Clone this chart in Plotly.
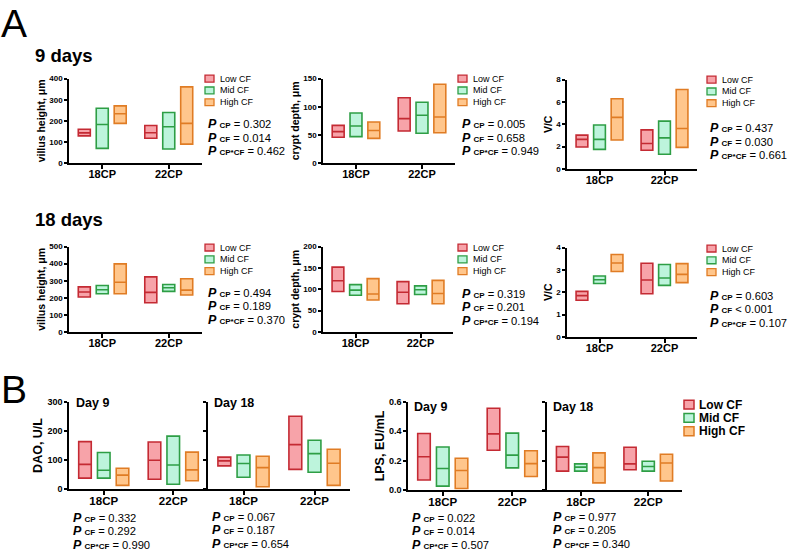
import plotly.graph_objects as go

W, H = 791, 557
FONT = "Liberation Sans"

cats = ["18CP", "22CP"]
groups = ["Low CF", "Mid CF", "High CF"]
line_colors = ["#C42A33", "#2E9E45", "#E07C24"]
fill_colors = ["#F7A3A9", "#BDF4DC", "#FFC68C"]

# values per panel: [group][category] -> min / mean / max
vh9_min = [[129, 118], [70, 67], [188, 90]]
vh9_mean = [[143, 144], [183, 172], [234, 188]]
vh9_max = [[160, 178], [260, 240], [271, 361]]

cd9_min = [[46, 57], [47, 53], [44, 54]]
cd9_mean = [[56, 79], [66, 85], [58, 82]]
cd9_max = [[67, 116], [89, 108], [73, 140]]

vc9_min = [[1.97, 1.68], [1.76, 1.32], [2.59, 1.94]]
vc9_mean = [[2.65, 2.29], [2.65, 2.79], [4.62, 3.62]]
vc9_max = [[3.03, 3.50], [3.94, 4.29], [6.29, 7.12]]

vh18_min = [[205, 171], [224, 238], [224, 217]]
vh18_mean = [[234, 232], [247, 259], [291, 245]]
vh18_max = [[264, 323], [272, 278], [399, 312]]

cd18_min = [[95, 66], [86, 88], [75, 66]]
cd18_mean = [[120, 93], [98, 99], [89, 90]]
cd18_max = [[152, 118], [111, 108], [125, 121]]

vc18_min = [[1.64, 1.93], [2.39, 2.31], [2.93, 2.43]]
vc18_mean = [[1.85, 2.55], [2.56, 2.64], [3.31, 2.80]]
vc18_max = [[2.04, 3.30], [2.73, 3.24], [3.69, 3.28]]

dao9_min = [[38, 34], [38, 17], [13, 29]]
dao9_mean = [[85, 99], [65, 83], [48, 66]]
dao9_max = [[163, 162], [126, 182], [72, 127]]

dao18_min = [[80, 68], [41, 58], [8, 13]]
dao18_mean = [[97, 153], [88, 122], [74, 89]]
dao18_max = [[110, 250], [117, 168], [113, 137]]

lps9_min = [[0.069, 0.271], [0.027, 0.151], [0.011, 0.093]]
lps9_mean = [[0.227, 0.382], [0.147, 0.238], [0.133, 0.180]]
lps9_max = [[0.384, 0.556], [0.293, 0.387], [0.216, 0.267]]

lps18_min = [[0.129, 0.138], [0.129, 0.129], [0.049, 0.062]]
lps18_mean = [[0.224, 0.178], [0.156, 0.160], [0.153, 0.184]]
lps18_max = [[0.296, 0.291], [0.178, 0.196], [0.253, 0.244]]

p_vh9 = [("CP", "= 0.302"), ("CF", "= 0.014"), ("CP*CF", "= 0.462")]
p_cd9 = [("CP", "= 0.005"), ("CF", "= 0.658"), ("CP*CF", "= 0.949")]
p_vc9 = [("CP", "= 0.437"), ("CF", "= 0.030"), ("CP*CF", "= 0.661")]
p_vh18 = [("CP", "= 0.494"), ("CF", "= 0.189"), ("CP*CF", "= 0.370")]
p_cd18 = [("CP", "= 0.319"), ("CF", "= 0.201"), ("CP*CF", "= 0.194")]
p_vc18 = [("CP", "= 0.603"), ("CF", "< 0.001"), ("CP*CF", "= 0.107")]
p_dao9 = [("CP", "= 0.332"), ("CF", "= 0.292"), ("CP*CF", "= 0.990")]
p_dao18 = [("CP", "= 0.067"), ("CF", "= 0.187"), ("CP*CF", "= 0.654")]
p_lps9 = [("CP", "= 0.022"), ("CF", "= 0.014"), ("CP*CF", "= 0.507")]
p_lps18 = [("CP", "= 0.977"), ("CF", "= 0.205"), ("CP*CF", "= 0.340")]

# panel layout in pixels: (x0, x1, ytop, ybottom)
panels = [
    dict(data=(vh9_min, vh9_mean, vh9_max), px=(69, 202, 75, 161), yr=[0, 400], dt=100,
         title="villus height, μm", p=p_vh9, pxy=(207, 121), leg=(205, 75)),
    dict(data=(cd9_min, cd9_mean, cd9_max), px=(323, 455, 75, 161), yr=[0, 150], dt=50,
         title="crypt depth, μm", p=p_cd9, pxy=(461, 121), leg=(458, 75)),
    dict(data=(vc9_min, vc9_mean, vc9_max), px=(567, 697, 76, 167), yr=[0, 8], dt=2,
         title="V/C", p=p_vc9, pxy=(709, 125), leg=(707, 76)),
    dict(data=(vh18_min, vh18_mean, vh18_max), px=(69, 202, 246, 333), yr=[0, 500], dt=100,
         title="villus height, μm", p=p_vh18, pxy=(207, 293), leg=(205, 247)),
    dict(data=(cd18_min, cd18_mean, cd18_max), px=(323, 453, 246, 333), yr=[0, 200], dt=50,
         title="crypt depth, μm", p=p_cd18, pxy=(461, 294), leg=(458, 247)),
    dict(data=(vc18_min, vc18_mean, vc18_max), px=(567, 697, 247, 338), yr=[0, 4], dt=1,
         title="V/C", p=p_vc18, pxy=(709, 296), leg=(707, 248)),
    dict(data=(dao9_min, dao9_mean, dao9_max), px=(69, 208, 404, 493), yr=[0, 300], dt=100,
         title="DAO, U/L", p=p_dao9, pxy=(72, 522), day=("Day 9", 75, 405)),
    dict(data=(dao18_min, dao18_mean, dao18_max), px=(208, 350, 404, 493), yr=[0, 300], dt=100,
         title=None, p=p_dao18, pxy=(211, 521), day=("Day 18", 213, 405)),
    dict(data=(lps9_min, lps9_mean, lps9_max), px=(408, 547, 404, 494), yr=[0, 0.6], dt=0.2,
         title="LPS, EU/mL", p=p_lps9, pxy=(411, 522), day=("Day 9", 413, 409), fmt=".1f"),
    dict(data=(lps18_min, lps18_mean, lps18_max), px=(547, 682, 404, 494), yr=[0, 0.6], dt=0.2,
         title=None, p=p_lps18, pxy=(552, 521), day=("Day 18", 552, 409), fmt=".1f"),
]

fig = go.Figure()
annotations = []
shapes = []


def fx(px):
    return px / W


def fy(py):
    return 1 - py / H


def add_text(x, y, text, size, bold=False, xanchor="left", yanchor="middle"):
    annotations.append(dict(
        x=fx(x), y=fy(y), xref="paper", yref="paper", text=text, showarrow=False,
        xanchor=xanchor, yanchor=yanchor, borderpad=0,
        font=dict(family=FONT, size=size, color="black", weight="bold" if bold else "normal")))


for i, pn in enumerate(panels, start=1):
    xa = "x" if i == 1 else f"x{i}"
    ya = "y" if i == 1 else f"y{i}"
    mins, means, maxs = pn["data"]
    for g in range(3):
        fig.add_trace(go.Box(
            x=cats, q1=mins[g], median=means[g], q3=maxs[g],
            lowerfence=mins[g], upperfence=maxs[g],
            name=groups[g], offsetgroup=str(g), boxpoints=False,
            fillcolor=fill_colors[g], line=dict(color=line_colors[g], width=1.6),
            whiskerwidth=0, xaxis=xa, yaxis=ya, showlegend=False, hoverinfo="skip"))
    x0, x1, yt, yb = pn["px"]
    bpanel = i >= 7
    side_panel = i in (8, 10)
    xkey = "xaxis" if i == 1 else f"xaxis{i}"
    ykey = "yaxis" if i == 1 else f"yaxis{i}"
    fig.layout[xkey] = dict(
        domain=[fx(x0), fx(x1)], anchor=ya, type="category", range=[-0.5, 1.5],
        showline=True, linecolor="black", linewidth=1.5, ticks="outside", ticklen=4,
        tickwidth=1.5, tickcolor="black", showgrid=False, zeroline=False,
        ticklabelstandoff=-4,
        tickfont=dict(family=FONT, size=11 if not bpanel else 11.5, color="black", weight="bold"),
        fixedrange=True)
    yd = dict(
        domain=[fy(yb), fy(yt)], anchor=xa, range=pn["yr"], dtick=pn["dt"],
        showline=True, linecolor="black", linewidth=1.5, ticks="outside", ticklen=3,
        tickwidth=1.5, tickcolor="black", showgrid=False, zeroline=False,
        tickfont=dict(family=FONT, size=8 if not bpanel else 9, color="black", weight="bold"),
        showticklabels=not side_panel, fixedrange=True)
    if pn.get("fmt"):
        yd["tickformat"] = pn["fmt"]
    if pn["title"]:
        yd["title"] = dict(text=pn["title"], standoff=2,
                           font=dict(family=FONT, size=10.5 if not bpanel else 12.5,
                                     color="black", weight="bold"))
    fig.layout[ykey] = yd

    # p-value lines
    px0, py0 = pn["pxy"]
    for k, (sub, val) in enumerate(pn["p"]):
        txt = (f"<span style='font-size:12.5px'><b><i>P</i></b></span> "
               f"<b><span style='font-size:8px'>{sub}</span></b> {val}")
        add_text(px0, py0 + k * 14, txt, 11.2)

    # small legends (panel A)
    if "leg" in pn:
        lx, ly = pn["leg"]
        for g in range(3):
            cy = ly + g * 12
            shapes.append(dict(type="rect", xref="paper", yref="paper",
                               x0=fx(lx), x1=fx(lx + 9), y0=fy(cy + 3.5), y1=fy(cy - 3.5),
                               fillcolor=fill_colors[g], line=dict(color=line_colors[g], width=1.3)))
            add_text(lx + 14, cy, groups[g], 9)
    if "day" in pn:
        t, dx, dy = pn["day"]
        add_text(dx, dy, t, 12.5, bold=True)

# big legend (panel B)
for g in range(3):
    cy = 407 + g * 13.5
    shapes.append(dict(type="rect", xref="paper", yref="paper",
                       x0=fx(684), x1=fx(694), y0=fy(cy + 4.5), y1=fy(cy - 4.5),
                       fillcolor=fill_colors[g], line=dict(color=line_colors[g], width=1.5)))
    add_text(698, cy, groups[g], 12, bold=True)

add_text(0, -4, "A", 39, yanchor="top")
add_text(0, 369, "B", 39, yanchor="top")
add_text(34, 51, "9 days", 18.5, bold=True)
add_text(34, 218, "18 days", 18.5, bold=True)

fig.update_layout(
    width=W, height=H, autosize=False, margin=dict(l=0, r=0, t=0, b=0),
    paper_bgcolor="white", plot_bgcolor="white", showlegend=False,
    boxmode="group", boxgap=0.19, boxgroupgap=0.33,
    annotations=annotations, shapes=shapes,
    font=dict(family=FONT, color="black"))

fig.write_html("out.html", config={"displayModeBar": False},
               post_script="document.body.style.margin='0';")
